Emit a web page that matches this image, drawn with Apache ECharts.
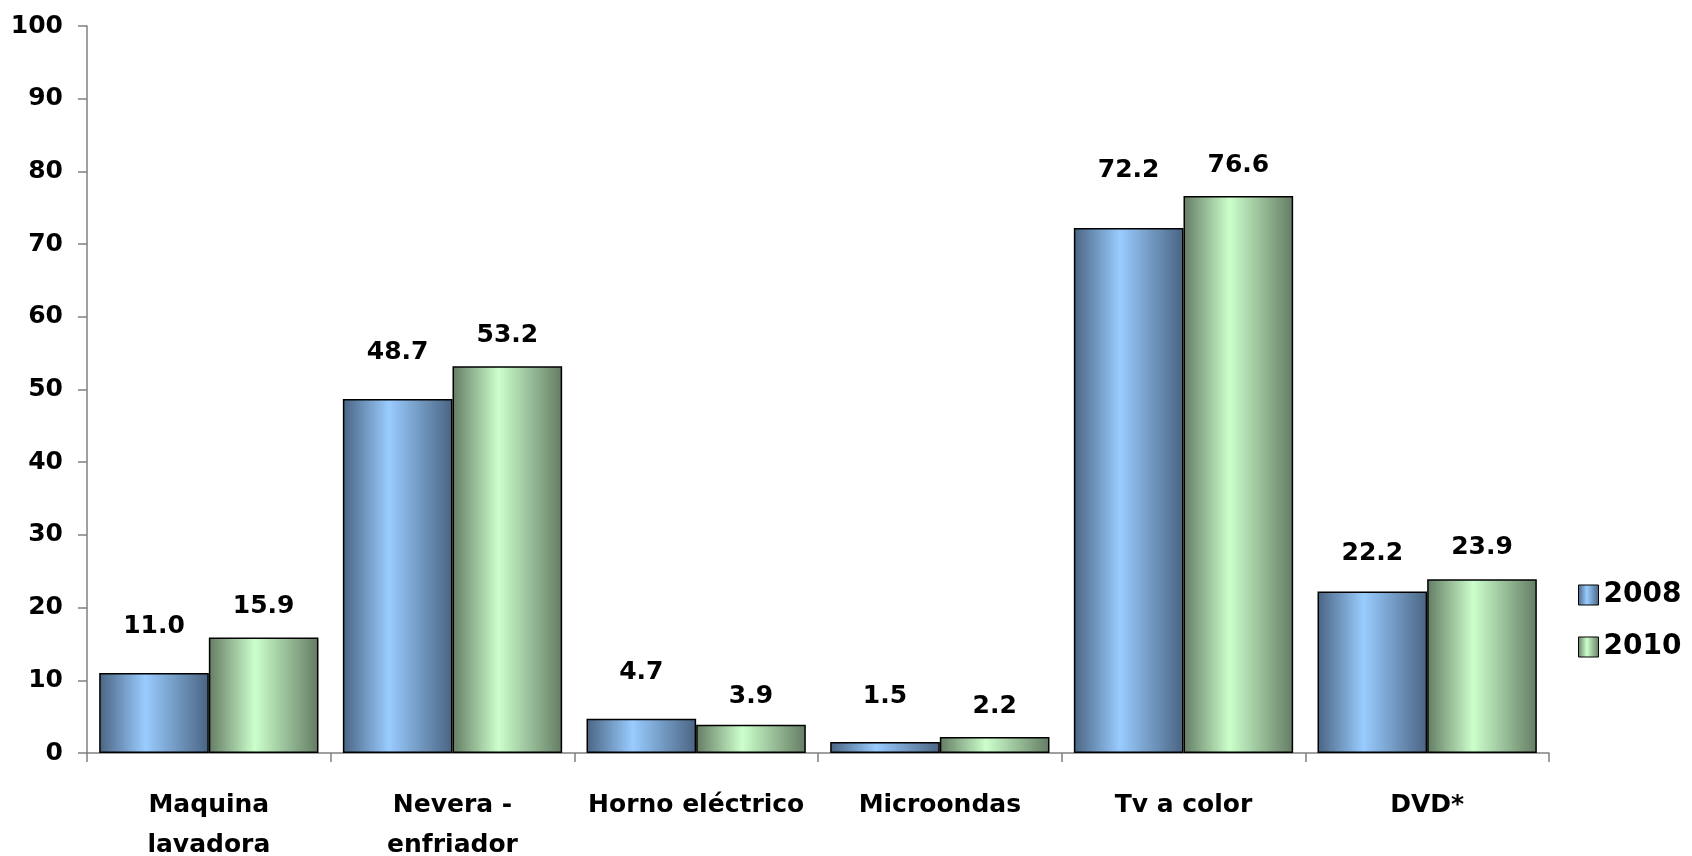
<!DOCTYPE html>
<html>
<head>
<meta charset="utf-8">
<script src="https://cdn.jsdelivr.net/npm/echarts@6/dist/echarts.min.js"></script>
<style>
  html, body { margin: 0; padding: 0; background: #fff; }
  #chart { width: 1692px; height: 856px; }
</style>
</head>
<body>
<div id="chart"></div>
<script>
const categories = ["Maquina\nlavadora", "Nevera -\nenfriador", "Horno eléctrico", "Microondas", "Tv a color", "DVD*"];
const values2008 = [11.0, 48.7, 4.7, 1.5, 72.2, 22.2];
const values2010 = [15.9, 53.2, 3.9, 2.2, 76.6, 23.9];
const seriesNames = ["2008", "2010"];

// the value labels in the original sit at slightly uneven heights
const labelGap2008 = [34, 34, 34, 33, 45, 26];
const labelGap2010 = [18, 18, 16, 18, 18, 19];

const font = "'DejaVu Sans', 'Liberation Sans', Arial, sans-serif";

// horizontal shading like the old office charts: dark edges, light center
const shade = (dark, light) =>
  new echarts.graphic.LinearGradient(0, 0, 1, 0, [
    { offset: 0, color: dark },
    { offset: 0.42, color: light },
    { offset: 1, color: dark },
  ]);

const blue = shade("#4a6482", "#99ccff");
const green = shade("#647c64", "#ccffcc");

const labelStyle = {
  show: true,
  position: "top",
  color: "#000",
  fontFamily: font,
  fontWeight: "bold",
  fontSize: 25,
  formatter: (p) => p.value.toFixed(1),
};

const withLabelGap = (values, gaps) =>
  values.map((v, i) => ({ value: v, label: { distance: gaps[i] } }));

const chart = echarts.init(document.getElementById("chart"));
chart.setOption({
  animation: false,
  grid: { left: 87, right: 143, top: 26, bottom: 103, outerBoundsMode: "none" },
  legend: {
    orient: "vertical",
    left: 1573,
    top: 576,
    itemWidth: 20,
    itemHeight: 20,
    itemGap: 24,
    textStyle: { color: "#000", fontFamily: font, fontWeight: "bold", fontSize: 28 },
    data: seriesNames.map((n) => ({
      name: n,
      icon: "rect",
      itemStyle: { borderColor: "#000", borderWidth: 1 },
    })),
  },
  xAxis: {
    type: "category",
    data: categories,
    axisLine: { lineStyle: { color: "#808080", width: 1.5 } },
    axisTick: { show: true, length: 9, lineStyle: { color: "#808080", width: 1.5 } },
    axisLabel: {
      color: "#000",
      fontFamily: font,
      fontWeight: "bold",
      fontSize: 25,
      lineHeight: 40,
      margin: 32,
      interval: 0,
    },
  },
  yAxis: {
    type: "value",
    min: 0,
    max: 100,
    interval: 10,
    splitLine: { show: false },
    axisLine: { show: true, lineStyle: { color: "#808080", width: 1.5 } },
    axisTick: { show: true, length: 9, lineStyle: { color: "#808080", width: 1.5 } },
    axisLabel: {
      color: "#000",
      fontFamily: font,
      fontWeight: "bold",
      fontSize: 25,
      margin: 24,
    },
  },
  series: [
    {
      name: seriesNames[0],
      type: "bar",
      data: withLabelGap(values2008, labelGap2008),
      barGap: "0%",
      barCategoryGap: "10%",
      itemStyle: { color: blue, borderColor: "#000", borderWidth: 1.5 },
      label: labelStyle,
    },
    {
      name: seriesNames[1],
      type: "bar",
      data: withLabelGap(values2010, labelGap2010),
      barGap: "0%",
      barCategoryGap: "10%",
      itemStyle: { color: green, borderColor: "#000", borderWidth: 1.5 },
      label: labelStyle,
    },
  ],
});
</script>
</body>
</html>
